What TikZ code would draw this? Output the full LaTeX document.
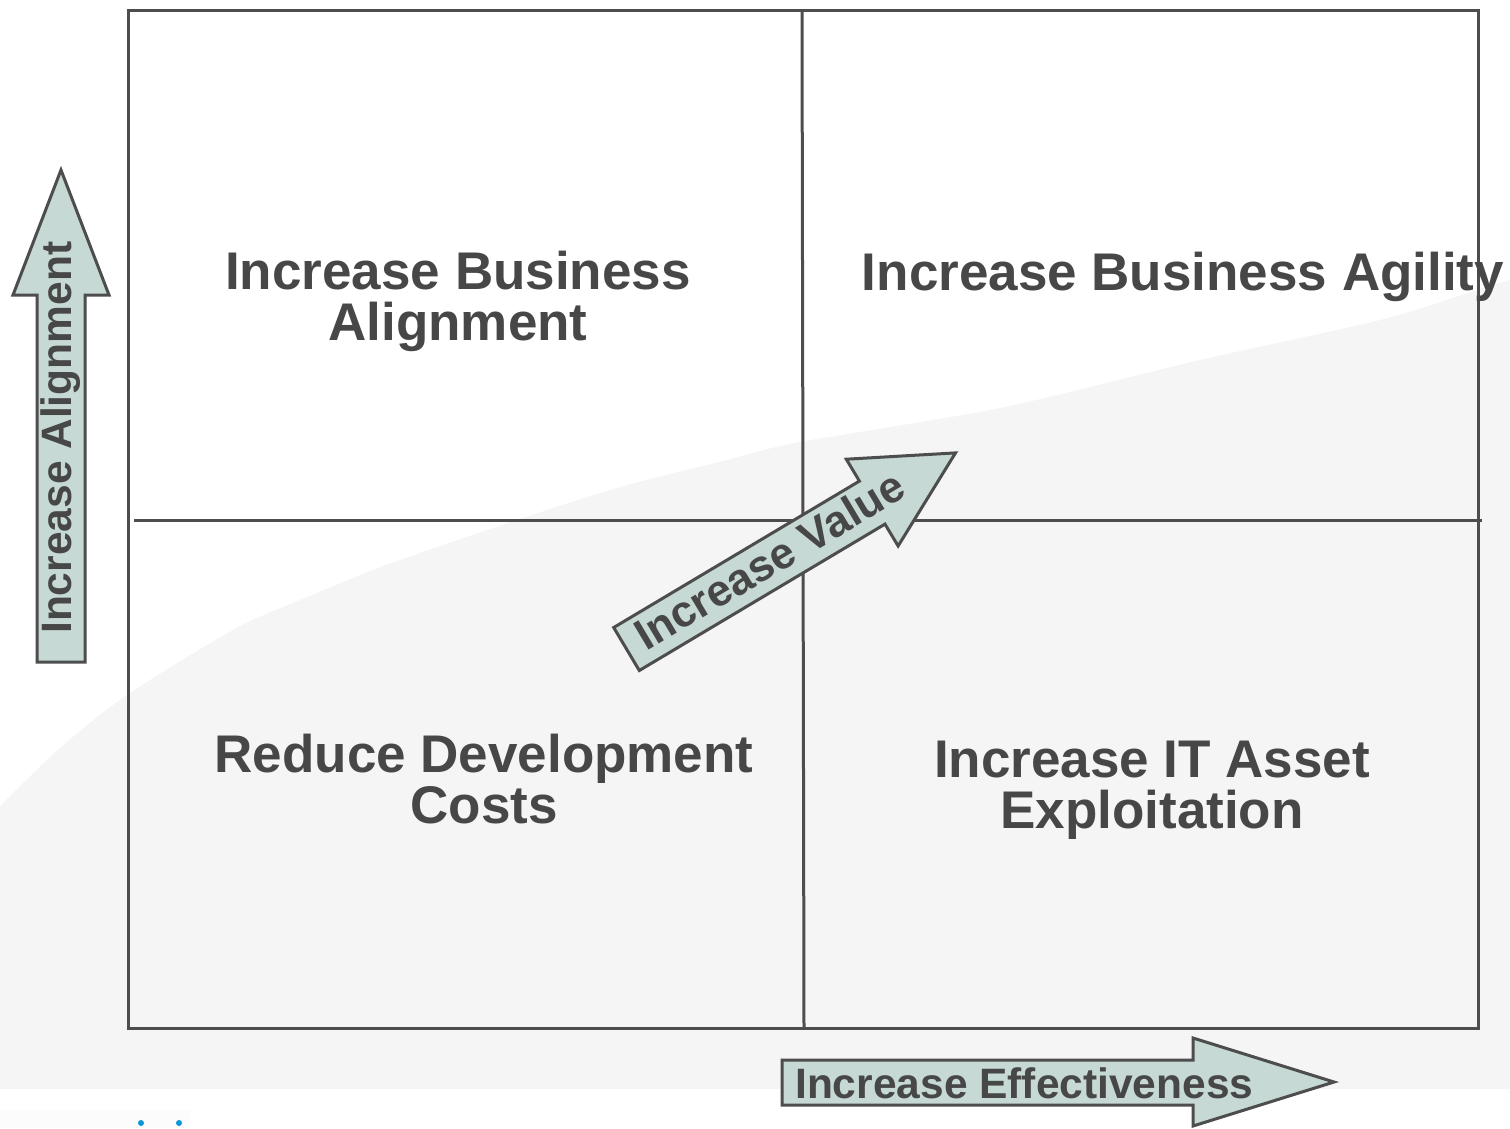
\documentclass[tikz,border=0pt]{standalone}
\usepackage{fontspec}
\setmainfont{Liberation Sans}
\definecolor{textgray}{HTML}{474747}
\definecolor{linegray}{HTML}{4D4D4D}
\definecolor{arrowfill}{HTML}{C6D9D5}
\definecolor{shadegray}{HTML}{F5F5F5}
\definecolor{faintgray}{HTML}{FCFCFC}
\definecolor{dotblue}{HTML}{0A96D7}
\begin{document}
\begin{tikzpicture}[x=1pt,y=-1pt,
  quadtext/.style={text=textgray, font=\bfseries\fontsize{53}{51}\selectfont, align=center, inner sep=0pt},
  arrowtext/.style={text=textgray, font=\bfseries\fontsize{42.5}{42}\selectfont, inner sep=0pt},
  bigarrow/.style={draw=linegray, line width=3pt, fill=arrowfill, line join=miter},
  framestyle/.style={draw=linegray, line width=3pt}]
\useasboundingbox (0,0) rectangle (1510,1128);
% shaded region
\fill[shadegray] (0,1089) -- plot[smooth] coordinates {(0,806) (60,748) (127,695) (233,630) (300,600) (400,560) (600,493) (727,460) (800,442) (1000,408) (1200,360) (1380,320) (1477,290) (1510,280)} -- (1510,1089) -- cycle;
\fill[faintgray] (0,1110) rectangle (190,1128);
\fill[dotblue] (141,1123) circle (3);
\fill[dotblue] (179,1123) circle (3);
% frame and quadrant lines
\draw[framestyle] (128,10) rectangle (1478,1028);
\coordinate (vtop) at (802,10);
\coordinate (vbot) at (804,1028);
\coordinate (hleft) at (134,520);
\coordinate (hright) at (1482,520);
\draw[framestyle] (vtop) -- (vbot);
\draw[framestyle] (hleft) -- (hright);
% arrows
\draw[bigarrow] (37,662) -- (37,295) -- (13,295) -- (61,170) -- (109,295) -- (85,295) -- (85,662) -- cycle;
\node[arrowtext, rotate=90, anchor=base west] (alignlbl) at (71,634) {Increase Alignment};
\draw[bigarrow] (782,1105) -- (782,1060) -- (1193,1060) -- (1193,1038) -- (1334,1082) -- (1193,1126) -- (1193,1105) -- cycle;
\node[arrowtext, anchor=base west] (efflbl) at (795,1098) {Increase Effectiveness};
\draw[bigarrow] (613.7,627.5) -- (859.4,481.1) -- (846.3,459.2) -- (955.5,452.9) -- (898.1,546) -- (885,524.1) -- (639.3,670.5) -- cycle;
\node[arrowtext, font=\bfseries\fontsize{44}{44}\selectfont, rotate=30.8, anchor=base west] (vallbl) at (646,652) {Increase Value};
% quadrant labels
\node[quadtext, anchor=base] (q1) at (458,340) {Increase Business\\Alignment};
\node[quadtext, anchor=base] (q2) at (1183,290) {Increase Business Agility};
\node[quadtext, anchor=base] (q3) at (484,823) {Reduce Development\\Costs};
\node[quadtext, anchor=base] (q4) at (1152,828) {Increase IT Asset\\Exploitation};
\end{tikzpicture}
\end{document}
